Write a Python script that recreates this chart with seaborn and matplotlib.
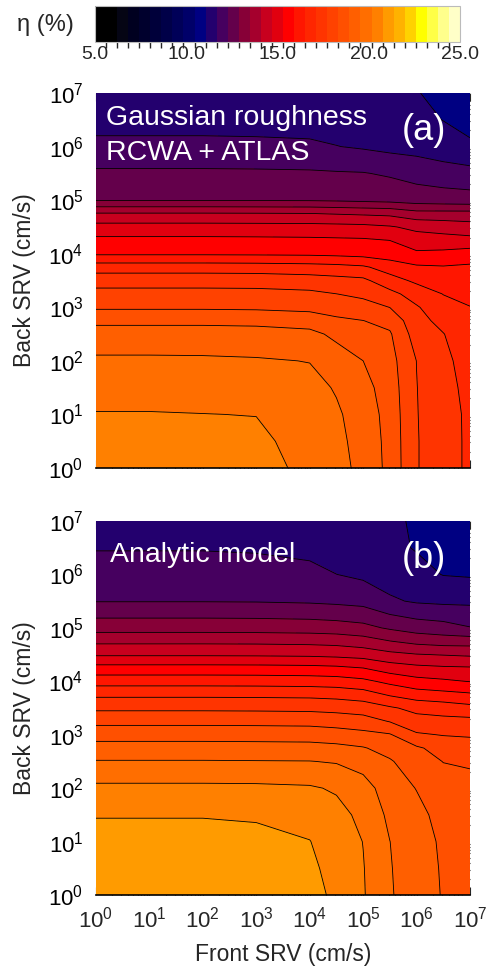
import numpy as np
import matplotlib
matplotlib.use("Agg")
import matplotlib.pyplot as plt
from matplotlib.colors import ListedColormap, BoundaryNorm
from matplotlib.ticker import FixedLocator, FuncFormatter
import seaborn as sns

sns.set_theme(style="white")
plt.rcParams["font.family"] = ["Liberation Sans", "DejaVu Sans"]
plt.rcParams["mathtext.fontset"] = "custom"
plt.rcParams["mathtext.rm"] = "Liberation Sans"
plt.rcParams["mathtext.it"] = "Liberation Sans:italic"

# ---------------- data (log10 of SRV in cm/s, efficiency in %) ----------------
LOG_FRONT = [0, 1, 2, 3, 4, 4.5, 5, 5.5, 6, 6.5, 7]
LOG_BACK = [0, 0.5, 1, 1.5, 2, 2.5, 2.75, 3, 3.25, 3.5, 3.75, 4, 4.25, 4.5,
            4.75, 5, 5.5, 6, 6.5, 7]

# panel (a): Gaussian roughness, RCWA + ATLAS  (one list per front-SRV column)
a_f0 = [20.45, 20.33, 20.18, 19.92, 19.64, 19.2, 18.8, 18.25, 17.91, 17.49, 16.82, 15.83, 15.45, 14.92, 14.13, 12.85, 12.38, 11.78, 11.5, 11.3]
a_f1 = [20.45, 20.33, 20.18, 19.92, 19.64, 19.2, 18.8, 18.25, 17.91, 17.49, 16.82, 15.83, 15.45, 14.92, 14.13, 12.85, 12.38, 11.78, 11.5, 11.3]
a_f2 = [20.43, 20.31, 20.16, 19.91, 19.63, 19.2, 18.8, 18.25, 17.91, 17.49, 16.82, 15.83, 15.45, 14.92, 14.13, 12.85, 12.38, 11.78, 11.5, 11.3]
a_f3 = [20.4, 20.28, 20.14, 19.88, 19.6, 19.17, 18.78, 18.23, 17.9, 17.48, 16.8, 15.82, 15.44, 14.91, 14.12, 12.84, 12.37, 11.77, 11.49, 11.28]
a_f4 = [19.98, 19.92, 19.85, 19.72, 19.53, 19.08, 18.7, 18.15, 17.85, 17.4, 16.75, 15.8, 15.42, 14.9, 14.1, 12.83, 12.35, 11.75, 11.46, 11.25]
a_f45 = [19.7, 19.66, 19.62, 19.5, 19.2, 18.82, 18.45, 18.05, 17.73, 17.32, 16.7, 15.76, 15.4, 14.88, 14.05, 12.8, 12.32, 11.68, 11.4, 11.2]
a_f5 = [19.42, 19.38, 19.3, 19.15, 18.94, 18.55, 18.34, 17.95, 17.6, 17.25, 16.6, 15.7, 15.38, 14.85, 14.0, 12.75, 12.3, 11.6, 11.35, 11.15]
a_f55 = [18.75, 18.73, 18.7, 18.64, 18.55, 18.4, 18.15, 17.72, 17.3, 16.75, 16.25, 15.6, 15.3, 14.75, 13.95, 12.7, 12.2, 11.5, 11.28, 11.1]
a_f6 = [17.76, 17.76, 17.75, 17.74, 17.72, 17.45, 17.32, 17.18, 16.85, 16.4, 16.0, 15.4, 14.98, 14.55, 13.7, 12.6, 12.05, 11.45, 11.2, 11.08]
a_f65 = [17.4, 17.4, 17.38, 17.33, 17.25, 17.14, 16.95, 16.72, 16.5, 16.25, 15.95, 15.45, 14.93, 14.45, 13.7, 12.55, 11.95, 11.3, 11.05, 10.95]
a_f7 = [17.0, 17.0, 17.0, 16.95, 16.9, 16.75, 16.65, 16.53, 16.35, 16.18, 16.0, 15.59, 14.88, 14.34, 13.7, 12.51, 11.89, 11.1, 10.98, 10.9]

# panel (b): analytic model
b_f0 = [21.05, 20.98, 20.88, 20.74, 20.28, 19.58, 19.17, 18.71, 18.17, 17.61, 17.0, 16.26, 15.51, 14.62, 13.96, 13.24, 12.25, 11.94, 11.63, 11.3]
b_f1 = [21.05, 20.98, 20.88, 20.74, 20.28, 19.58, 19.17, 18.71, 18.17, 17.61, 17.0, 16.26, 15.51, 14.62, 13.96, 13.24, 12.25, 11.94, 11.63, 11.3]
b_f2 = [21.05, 20.98, 20.88, 20.74, 20.28, 19.58, 19.17, 18.71, 18.17, 17.61, 17.0, 16.26, 15.51, 14.62, 13.96, 13.24, 12.25, 11.94, 11.63, 11.3]
b_f3 = [21.0, 20.94, 20.85, 20.72, 20.27, 19.57, 19.16, 18.7, 18.16, 17.6, 16.99, 16.25, 15.5, 14.61, 13.95, 13.23, 12.24, 11.92, 11.6, 11.28]
b_f4 = [20.92, 20.85, 20.77, 20.58, 20.22, 19.56, 19.15, 18.68, 18.14, 17.58, 16.97, 16.22, 15.47, 14.58, 13.92, 13.2, 12.2, 11.84, 11.5, 11.22]
b_f45 = [20.66, 20.6, 20.5, 20.35, 20.08, 19.5, 19.1, 18.6, 18.08, 17.53, 16.92, 16.18, 15.42, 14.53, 13.88, 13.15, 12.15, 11.67, 11.4, 11.2]
b_f5 = [20.2, 20.18, 20.14, 20.0, 19.8, 19.3, 18.98, 18.5, 17.98, 17.45, 16.8, 16.05, 15.3, 14.45, 13.75, 13.05, 12.08, 11.55, 11.3, 11.2]
b_f55 = [19.6, 19.58, 19.55, 19.42, 19.23, 19.0, 18.72, 18.38, 17.7, 17.2, 16.45, 15.75, 15.0, 14.25, 13.5, 12.8, 11.75, 11.4, 11.2, 11.15]
b_f6 = [19.24, 19.22, 19.18, 19.1, 18.92, 18.6, 18.42, 17.8, 17.35, 16.95, 16.2, 15.5, 14.85, 14.12, 13.3, 12.6, 11.6, 11.25, 11.02, 11.0]
b_f65 = [18.9, 18.88, 18.85, 18.75, 18.6, 18.32, 18.1, 17.7, 17.3, 16.85, 16.1, 15.4, 14.78, 14.06, 13.2, 12.5, 11.55, 11.04, 10.9, 10.85]
b_f7 = [18.6, 18.58, 18.55, 18.5, 18.42, 18.3, 18.05, 17.65, 17.3, 16.7, 16.0, 15.28, 14.75, 14.0, 13.2, 12.3, 11.55, 11.0, 10.85, 10.8]

CBAR_TICKS = [5.0, 10.0, 15.0, 20.0, 25.0]
ETA_MIN, ETA_MAX, N_BANDS = 5.0, 25.0, 33

# discrete colour table
BAND_RGB = [
    (0, 0, 0), (0, 0, 0), (5, 5, 20), (0, 0, 32), (0, 0, 45), (0, 0, 58),
    (0, 0, 72), (0, 0, 88), (0, 0, 105), (0, 0, 130), (35, 0, 110),
    (70, 0, 95), (100, 0, 75), (135, 0, 55), (165, 0, 45), (200, 0, 30),
    (225, 0, 15), (255, 0, 0), (255, 22, 0), (255, 38, 0), (255, 52, 0),
    (255, 66, 0), (255, 80, 0), (255, 95, 0), (255, 110, 0), (255, 128, 0),
    (255, 155, 0), (255, 178, 0), (255, 210, 0), (255, 255, 0),
    (255, 255, 70), (255, 255, 140), (255, 255, 200),
]

# ---------------- figure ----------------
W, H = 490, 968
fig = plt.figure(figsize=(W / 100, H / 100), dpi=100)

cmap = ListedColormap([(r / 255, g / 255, b / 255) for r, g, b in BAND_RGB])
levels = np.linspace(ETA_MIN, ETA_MAX, N_BANDS + 1)
norm = BoundaryNorm(levels, N_BANDS)

X, Y = np.meshgrid(LOG_FRONT, LOG_BACK)
Za = np.column_stack([a_f0, a_f1, a_f2, a_f3, a_f4, a_f45, a_f5, a_f55, a_f6, a_f65, a_f7])
Zb = np.column_stack([b_f0, b_f1, b_f2, b_f3, b_f4, b_f45, b_f5, b_f55, b_f6, b_f65, b_f7])


def px_axes(left, top, right, bottom):
    return fig.add_axes([left / W, 1 - bottom / H, (right - left) / W, (bottom - top) / H])


ax_a = px_axes(96, 93, 470, 468)
ax_b = px_axes(96, 521, 470, 895)
cax = px_axes(95, 6, 460, 42)

dec_fmt = FuncFormatter(lambda v, p: r"$\mathdefault{10^{%d}}$" % int(round(v)))
minor_pos = [d + np.log10(k) for d in range(7) for k in range(2, 10)]

cf = None
for ax, Z, show_x in [(ax_a, Za, False), (ax_b, Zb, True)]:
    cf = ax.contourf(X, Y, Z, levels=levels, cmap=cmap, norm=norm)
    ax.contour(X, Y, Z, levels=levels, colors="black", linewidths=0.6)
    ax.set_xlim(0, 7)
    ax.set_ylim(0, 7)
    for a in (ax.xaxis, ax.yaxis):
        a.set_major_locator(FixedLocator(list(range(8))))
        a.set_minor_locator(FixedLocator(minor_pos))
        a.set_major_formatter(dec_fmt)
    for s in ("left", "top", "right"):
        ax.spines[s].set_visible(False)
    ax.spines["bottom"].set_color("black")
    ax.spines["bottom"].set_linewidth(1.2)
    ax.tick_params(which="both", direction="in", top=True, right=True,
                   bottom=True, left=True, width=0.8, labelsize=16)
    ax.tick_params(which="major", length=6)
    ax.tick_params(which="minor", length=3)
    ax.tick_params(axis="y", colors="black", color="white", pad=9)
    ax.tick_params(axis="x", labelbottom=show_x, pad=8)
    for t in ax.xaxis.get_major_ticks() + ax.xaxis.get_minor_ticks():
        t.tick1line.set_color("black")
        t.tick2line.set_color("white")
    ax.set_ylabel("Back SRV (cm/s)", fontsize=16.5)
    ax.yaxis.set_label_coords(-0.160, 0.5)

ax_b.set_xlabel("Front SRV (cm/s)", fontsize=16.5)
ax_b.xaxis.set_label_coords(0.5, -0.128)

txt = dict(color="white", fontsize=20.5, ha="left", va="baseline")
ax_a.text(0.027, 0.915, "Gaussian roughness", transform=ax_a.transAxes, **txt)
ax_a.text(0.027, 0.821, "RCWA + ATLAS", transform=ax_a.transAxes, **txt)
ax_b.text(0.037, 0.890, "Analytic model", transform=ax_b.transAxes, **txt)
ax_a.text(0.877, 0.899, "(a)", transform=ax_a.transAxes, color="white",
          fontsize=26, ha="center", va="center")
ax_b.text(0.877, 0.901, "(b)", transform=ax_b.transAxes, color="white",
          fontsize=26, ha="center", va="center")

cb = fig.colorbar(cf, cax=cax, orientation="horizontal", ticks=CBAR_TICKS)
cb.ax.set_xticklabels(["%.1f" % v for v in CBAR_TICKS])
cb.ax.tick_params(length=0, labelsize=14, pad=3)
cb.outline.set_edgecolor("#bbbbbb")
cb.outline.set_linewidth(0.8)
fig.text(17 / W, 1 - 25 / H, "η (%)", fontsize=17, ha="left", va="center")

fig.savefig("out.png", dpi=100)
